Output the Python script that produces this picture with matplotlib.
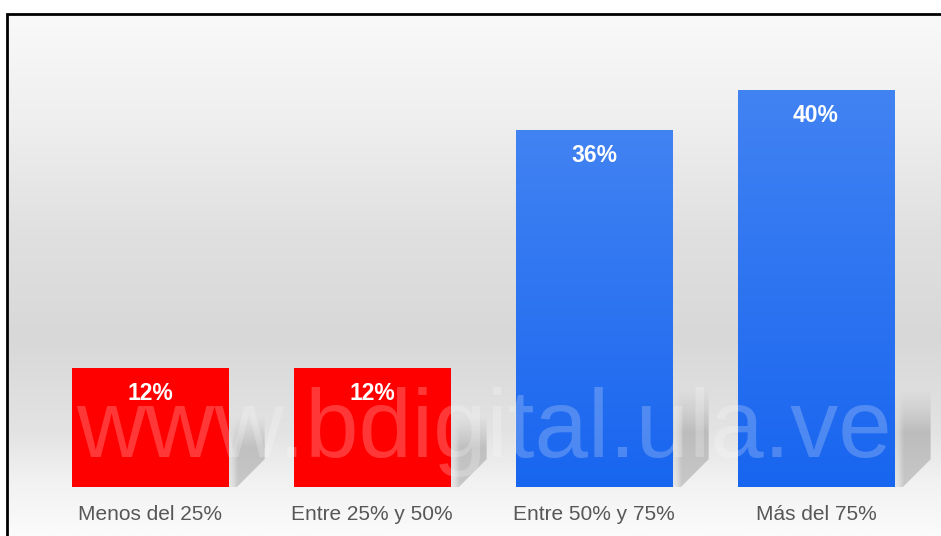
import matplotlib
matplotlib.use("Agg")
import matplotlib.pyplot as plt
import numpy as np
from matplotlib.colors import LinearSegmentedColormap, to_rgb
from matplotlib.patches import Polygon, Rectangle

categories = ["Menos del 25%", "Entre 25% y 50%", "Entre 50% y 75%", "Más del 75%"]
values = [12, 12, 36, 40]
value_labels = ["12%", "12%", "36%", "40%"]
bar_top_colors = ["#ff0000", "#ff0000", "#4283f3", "#4283f3"]
bar_bottom_colors = ["#ff0000", "#ff0000", "#1865ef", "#1865ef"]
watermark = "www.bdigital.ula.ve"

W, H = 941, 536
fig = plt.figure(figsize=(W / 100, H / 100), dpi=100)
fig.patch.set_facecolor("white")

# background panel with a soft vertical gradient (light top, gray middle, light floor)
bg = fig.add_axes([8 / W, 0, 1 - 8 / W, (H - 15) / H])
bg.set_axis_off()
stops = [(0.0, "#f9f9f9"), (0.2, "#efefef"), (0.42, "#e0e0e0"), (0.62, "#d8d8d8"),
         (0.8, "#e3e3e3"), (0.9, "#f2f2f2"), (1.0, "#fbfbfb")]
bg_cmap = LinearSegmentedColormap.from_list("bg", stops)
bg.imshow(np.linspace(0, 1, 256).reshape(-1, 1), aspect="auto", cmap=bg_cmap,
          extent=[0, 1, 0, 1], origin="upper")
bg.set_xlim(0, 1)
bg.set_ylim(0, 1)

# main axes: bar centers 222 px apart, baseline 49 px above the bottom edge
ax = fig.add_axes([0, 0, 1, 1])
ax.set_axis_off()
ax.patch.set_alpha(0)
px_unit, px_pct = 222.0, 9.93
ax.set_xlim(-150 / px_unit, (W - 150) / px_unit)
ax.set_ylim(-49 / px_pct, (H - 49) / px_pct)

x = np.arange(len(categories))
width = 0.703
bars = ax.bar(x, values, width=width, color=bar_bottom_colors, linewidth=0, zorder=3)

# gradient fill and cast shadow for each bar
for bar, top_c, bot_c, v, lab in zip(bars, bar_top_colors, bar_bottom_colors, values, value_labels):
    x0, w, h = bar.get_x(), bar.get_width(), bar.get_height()
    grad = np.linspace(0, 1, 128).reshape(-1, 1, 1)
    rgb = np.array(to_rgb(top_c)) * (1 - grad) + np.array(to_rgb(bot_c)) * grad
    im = ax.imshow(rgb, aspect="auto", extent=[x0, x0 + w, 0, h], origin="upper", zorder=3.1)
    im.set_clip_path(bar)

    xr = x0 + w
    dx, dy = 0.165, 2.8
    sh = min(10.0, 0.6 * v)
    poly = Polygon([(xr + 0.04, 0), (xr + dx, dy), (xr + dx, sh), (xr, sh), (xr, 0)],
                   closed=True, facecolor="none", edgecolor="none")
    ax.add_patch(poly)
    t = np.linspace(0, 1, 64)
    alpha = 0.32 * np.clip(t / 0.45, 0, 1) ** 1.2
    shade = np.zeros((64, 16, 4))
    shade[..., :3] = 0.42
    horiz = np.clip(np.linspace(0, 1, 16) / 0.25, 0.35, 1)
    shade[..., 3] = alpha.reshape(-1, 1) * horiz.reshape(1, -1)
    sim = ax.imshow(shade, aspect="auto", extent=[xr, xr + dx, 0, sh], origin="upper",
                    zorder=2, interpolation="bilinear")
    sim.set_clip_path(poly)

    # value inside the top of the bar
    ax.annotate(lab, (x0 + w / 2, h), xytext=(0, -26),
                textcoords="offset pixels", ha="center", va="center", color="white",
                fontsize=16.5, fontweight="bold", family="Liberation Sans", zorder=5)

for xi, cat in zip(x, categories):
    ax.annotate(cat, (xi, 0), xytext=(0, -27), textcoords="offset pixels",
                ha="center", va="center", color="#575757", fontsize=15,
                family="Liberation Sans", zorder=5)

fig.text(484 / W, 79 / H, watermark, ha="center", va="baseline", fontsize=69,
         family="Liberation Sans", color="white", alpha=0.22, zorder=4)

# outer frame, running off the right and bottom edges
fig.patches.append(Rectangle((7 / W, -0.1), 1.2, (H - 14) / H + 0.1,
                             transform=fig.transFigure, fill=False,
                             edgecolor="black", linewidth=2.0, zorder=10))

fig.savefig("out.png", dpi=100)
